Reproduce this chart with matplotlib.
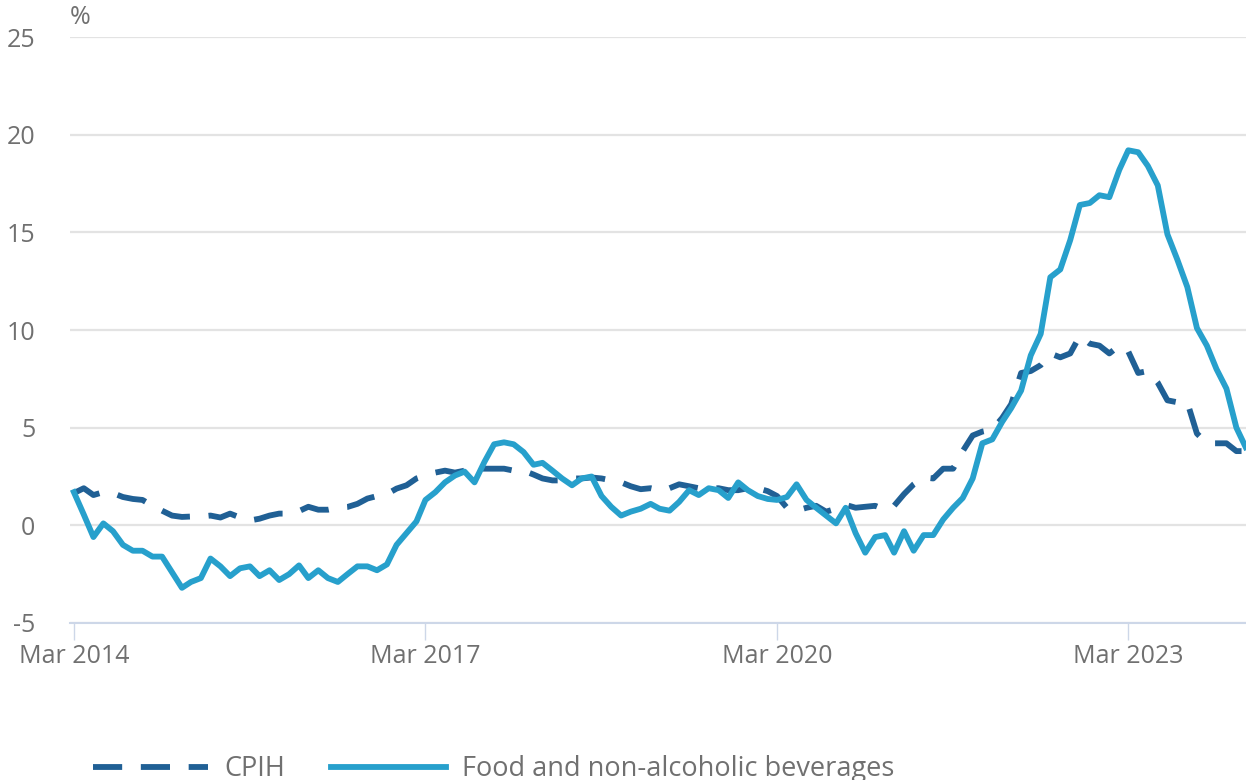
import pandas as pd
import matplotlib
matplotlib.use('Agg')
import matplotlib.pyplot as plt
import matplotlib.dates as mdates

plt.rcParams['font.family'] = ['Open Sans', 'DejaVu Sans']

# monthly, Mar 2014 - Mar 2024
months = pd.date_range('2014-03-01', '2024-03-01', freq='MS')

cpih = [1.65, 1.9, 1.55, 1.7, 1.65, 1.45, 1.35, 1.3, 1.0, 0.75,
        0.5, 0.43, 0.45, 0.45, 0.5, 0.4, 0.6, 0.4, 0.25, 0.34, 0.5, 0.6,
        0.6, 0.73, 0.95, 0.8, 0.8, 0.9, 0.94, 1.1, 1.37, 1.5, 1.6, 1.88,
        2.05, 2.4, 2.55, 2.7, 2.8, 2.7, 2.8, 2.9, 2.9, 2.9, 2.9, 2.8,
        2.8, 2.6, 2.4, 2.3, 2.3, 2.4, 2.4, 2.45, 2.4, 2.3, 2.2, 2.0,
        1.85, 1.9, 1.8, 1.9, 2.1, 2.0, 1.9, 1.9, 1.9, 1.8, 1.8, 1.9,
        1.9, 1.75, 1.5, 0.9, 0.75, 0.9, 1.0, 0.7, 0.85, 1.05, 0.9, 0.95,
        1.0, 0.8, 1.0, 1.6, 2.1, 2.45, 2.4, 2.9, 2.9, 3.8, 4.6, 4.8,
        4.9, 5.5, 6.2, 7.8, 7.9, 8.2, 8.8, 8.6, 8.8, 9.7, 9.3, 9.2,
        8.8, 9.2, 8.9, 7.8, 7.9, 7.3, 6.4, 6.3, 6.3, 4.7, 4.2, 4.2,
        4.2, 3.8, 3.8]

food = [1.7, 0.55, -0.6, 0.1, -0.3, -1.0, -1.3, -1.3, -1.6, -1.6,
        -2.4, -3.2, -2.9, -2.7, -1.7, -2.1, -2.6, -2.2, -2.1, -2.6, -2.3, -2.8,
        -2.5, -2.05, -2.7, -2.3, -2.7, -2.9, -2.5, -2.1, -2.1, -2.3, -2.0, -1.0,
        -0.4, 0.2, 1.3, 1.7, 2.2, 2.55, 2.75, 2.2, 3.25, 4.15, 4.25, 4.15,
        3.75, 3.1, 3.2, 2.8, 2.4, 2.05, 2.4, 2.5, 1.5, 0.95, 0.5, 0.7,
        0.85, 1.1, 0.85, 0.75, 1.2, 1.8, 1.55, 1.9, 1.8, 1.4, 2.2, 1.8,
        1.5, 1.35, 1.3, 1.45, 2.1, 1.3, 0.9, 0.5, 0.1, 0.9, -0.4, -1.4,
        -0.6, -0.5, -1.4, -0.3, -1.3, -0.5, -0.5, 0.3, 0.9, 1.4, 2.4, 4.2,
        4.4, 5.3, 6.0, 6.9, 8.7, 9.8, 12.7, 13.1, 14.6, 16.4, 16.5, 16.9,
        16.8, 18.2, 19.2, 19.1, 18.4, 17.4, 14.9, 13.6, 12.2, 10.1, 9.2, 8.0,
        7.0, 5.0, 4.0]

yticks = [-5, 0, 5, 10, 15, 20, 25]
xtick_dates = pd.to_datetime(['2014-03-01', '2017-03-01', '2020-03-01', '2023-03-01'])

fig = plt.figure(figsize=(12.46, 7.8), dpi=100)
ax = fig.add_axes([70/1246, 157/780, 1176/1246, 586/780])

ax.plot(months, cpih, color='#206095', lw=4.2, linestyle=(0, (5, 3.2)),
        dash_capstyle='butt', label='CPIH', clip_on=False, zorder=3)
ax.plot(months, food, color='#27a0cc', lw=4.2, label='Food and non-alcoholic beverages',
        clip_on=False, zorder=4, solid_joinstyle='round')

ax.set_ylim(-5, 25)
ax.set_xlim(pd.Timestamp('2014-02-17'), pd.Timestamp('2024-03-02'))
ax.set_yticks(yticks)
ax.set_yticklabels([str(t) for t in yticks])
ax.set_xticks(xtick_dates)
ax.xaxis.set_major_formatter(mdates.DateFormatter('%b %Y'))

for s in ['top', 'right', 'left']:
    ax.spines[s].set_visible(False)
ax.spines['bottom'].set_color('#cdd7e8')
ax.spines['bottom'].set_linewidth(1.5)
ax.grid(axis='y', color='#e3e3e3', lw=1.6)
ax.set_axisbelow(True)
ax.tick_params(axis='y', length=0, pad=25, labelsize=18, labelcolor='#707070')
ax.tick_params(axis='x', length=12, width=1, color='#cdd7e8', pad=3,
               labelsize=18, labelcolor='#707070')

ax.text(0, 1.012, '%', transform=ax.transAxes, fontsize=18, color='#707070',
        ha='left', va='bottom')

fig.legend(loc='center left', bbox_to_anchor=(93/1246, 11/780), ncol=2, frameon=False,
           fontsize=19.5, labelcolor='#707070', handlelength=4.26, handletextpad=0.6,
           columnspacing=1.67, borderpad=0, borderaxespad=0)

fig.savefig('out.png', dpi=100)
